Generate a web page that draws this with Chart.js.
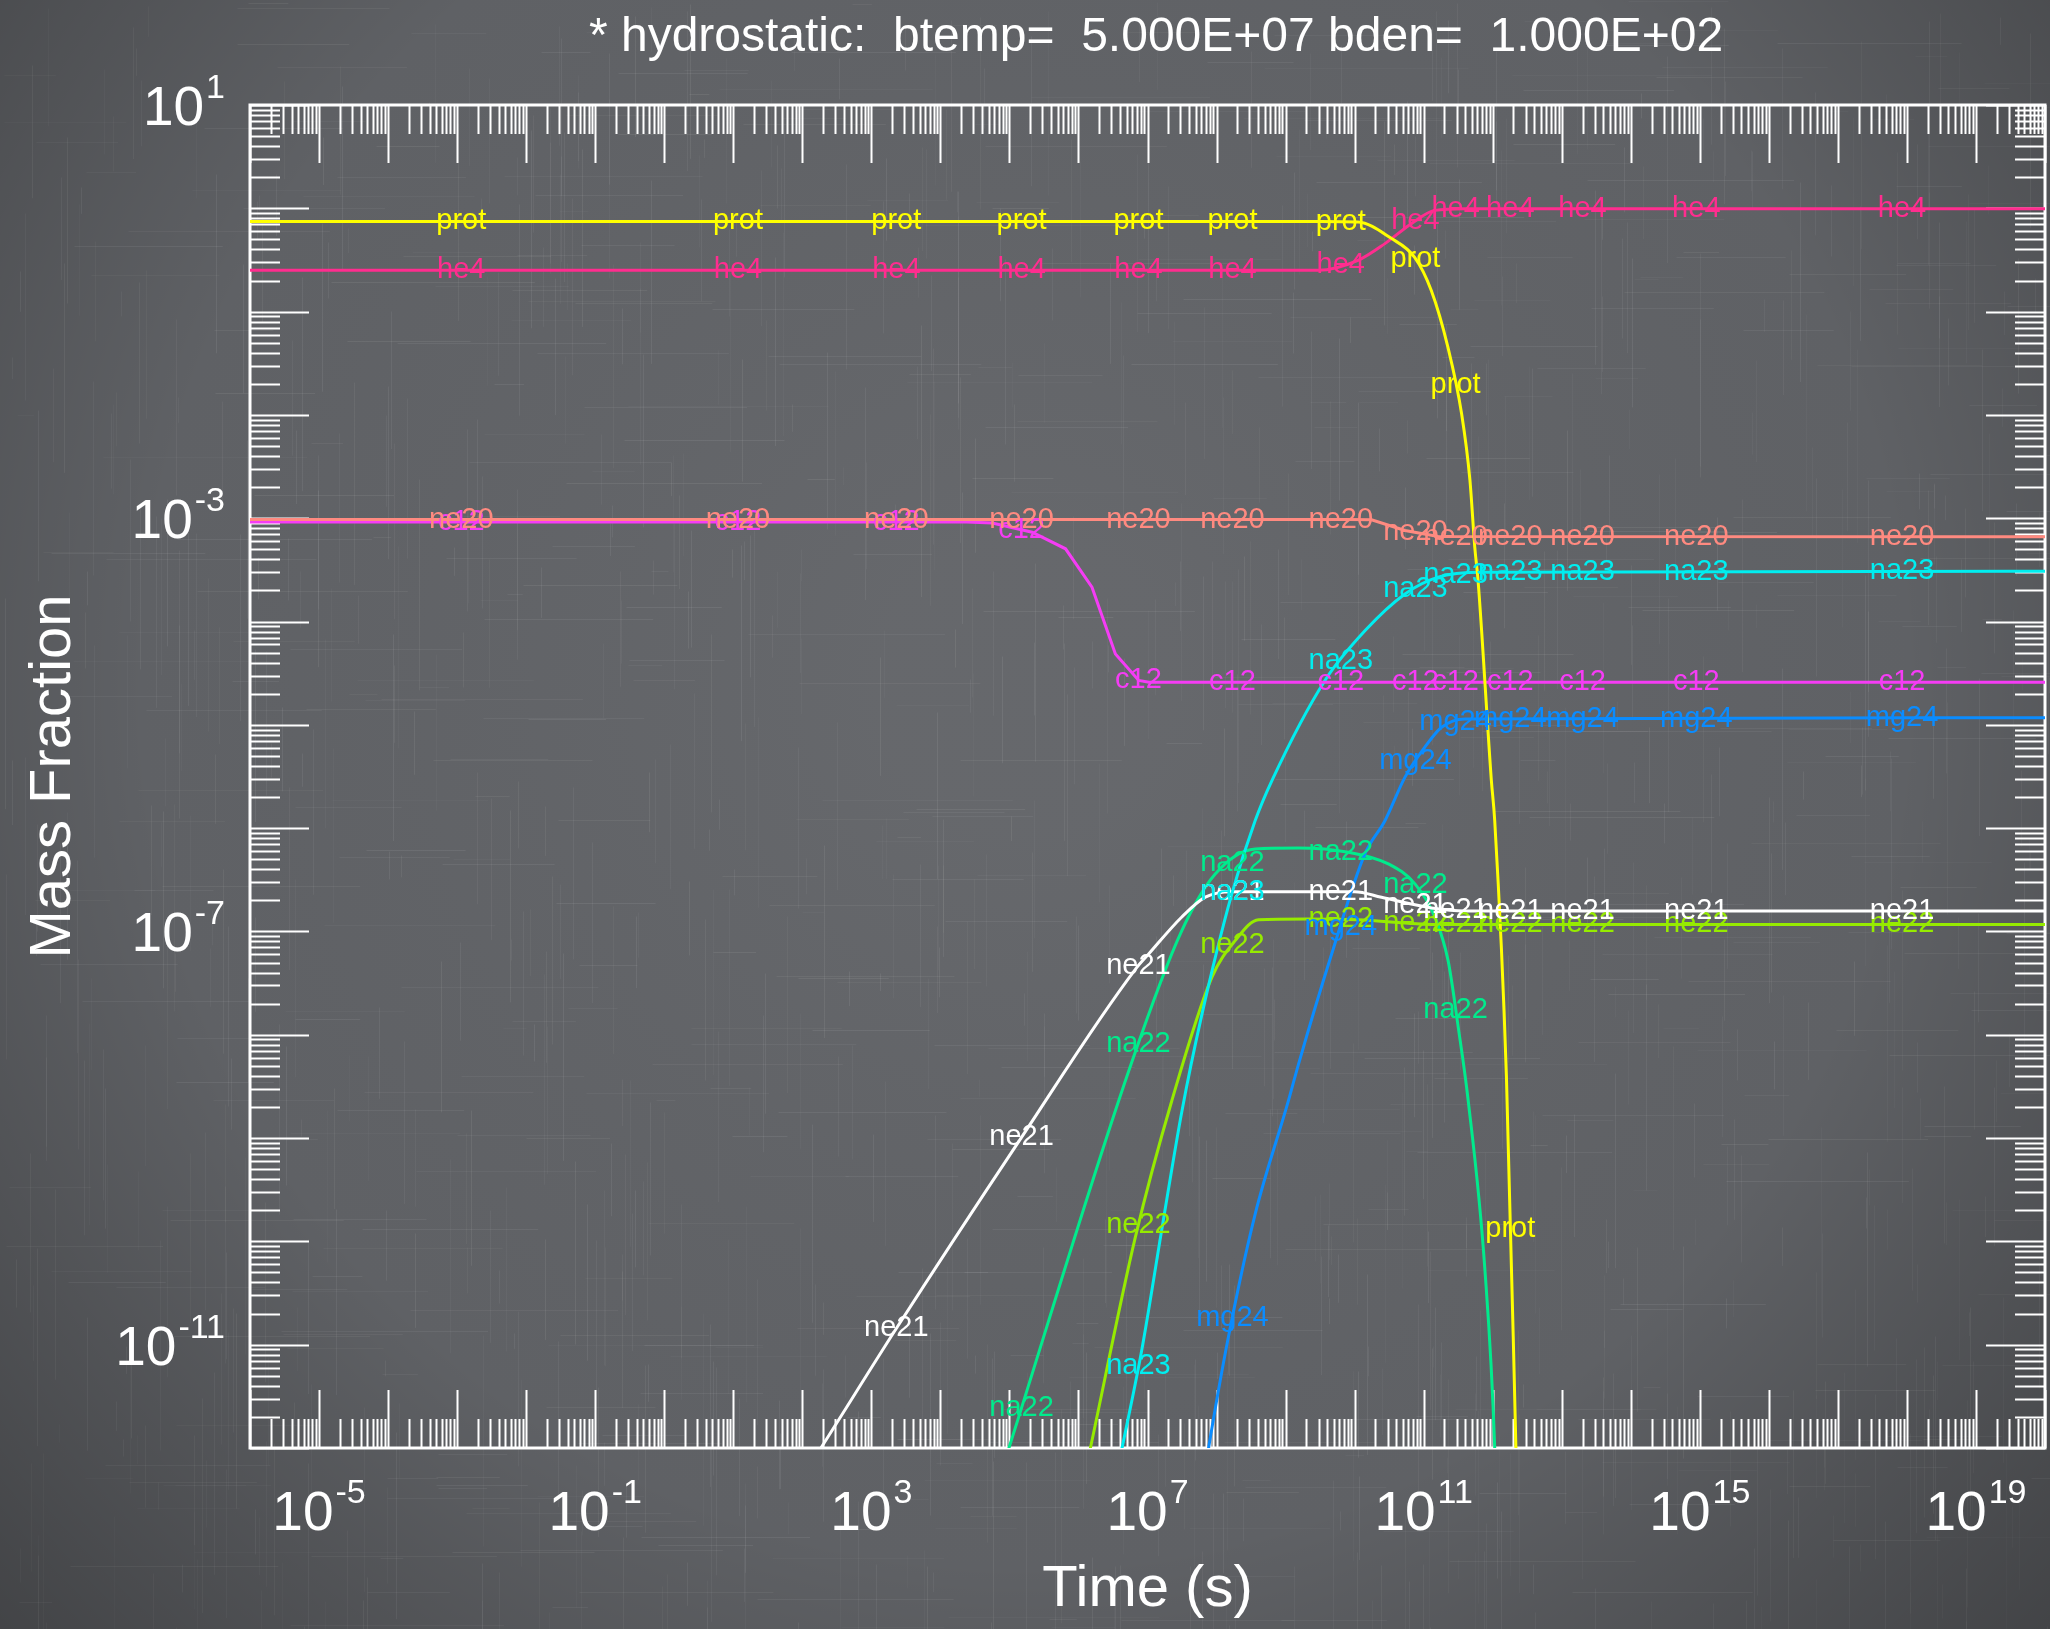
<!DOCTYPE html>
<html>
<head>
<meta charset="utf-8">
<title>hydrostatic burn</title>
<script src="https://cdn.jsdelivr.net/npm/chart.js@4.4.0/dist/chart.umd.min.js"></script>
<style>
  html, body { margin: 0; padding: 0; background: #4a4b4e; }
  #wrap { position: absolute; left: 0; top: 0; width: 2050px; height: 1629px; }
</style>
</head>
<body>
<div id="wrap"><canvas id="cha" width="2050" height="1629"></canvas></div>
<script>
// time (s) and mass fraction for each species
const protT = [1e-6, 3.2e9, 1.12e10, 3.39e10, 7.41e10, 1.29e11, 2.24e11, 3.55e11, 4.68e11, 5.5e11, 6.14e11, 9.57e11, 1.07e12, 1.58e12, 2.17e12, 2.3e12];
const protX = [0.746, 0.746, 0.736, 0.512, 0.335, 0.160, 0.0455, 0.0102, 2.34e-3, 5.25e-4, 2.49e-4, 2.89e-6, 1.18e-6, 4.0e-9, 1.0e-12, 2.0e-13];

const he4T = [1e-6, 2.95e9, 1.12e10, 2.75e10, 6.61e10, 1.45e11, 3.98e11, 1e20];
const he4X = [0.251, 0.251, 0.313, 0.455, 0.710, 0.955, 0.99, 0.99];

const ne20T = [1e-6, 8.1e9, 1.76e10, 5.37e10, 1.62e11, 1e20];
const ne20X = [9.7e-4, 9.7e-4, 9.66e-4, 7.6e-4, 6.65e-4, 6.6e-4];

const c12T = [1e-6, 2.4e4, 5.65e4, 2.13e5, 6.5e5, 1.57e6, 3.43e6, 7.46e6, 1.05e7, 1e20];
const c12X = [9.2e-4, 9.2e-4, 9.0e-4, 7.33e-4, 5.06e-4, 2.15e-4, 4.86e-5, 2.69e-5, 2.59e-5, 2.59e-5];

const na23T = [3.98e6, 4.28e6, 8.34e6, 1.64e7, 3.14e7, 6.04e7, 1.66e8, 3.62e8, 6.34e8, 3.72e9, 1.42e10, 5.37e10, 1.62e11, 6.85e11, 1e20];
const na23X = [7.9e-13, 1e-12, 9.2e-12, 1.4e-10, 1.8e-9, 1.5e-8, 2.3e-7, 1.18e-6, 2.89e-6, 2.69e-5, 8.18e-5, 1.85e-4, 2.69e-4, 3.0e-4, 3.07e-4];

const mg24T = [7.2e7, 7.67e7, 1.49e8, 3.62e8, 1.1e9, 1.53e9, 4.65e9, 1.41e10, 2.75e10, 5.37e10, 1.04e11, 1.82e11, 3.94e11, 1e20];
const mg24X = [7.6e-13, 1e-12, 1.2e-11, 1.83e-10, 2.3e-9, 5.12e-9, 6.05e-8, 5.64e-7, 1.18e-6, 3.12e-6, 6.08e-6, 9.48e-6, 1.14e-5, 1.17e-5];

const ne21T = [1.5e2, 1.86e2, 2.26e3, 1.37e5, 6.67e6, 1.04e7, 3.14e7, 6.87e7, 1.66e8, 1.01e10, 2.45e10, 1.3e11, 4.0e11, 1e20];
const ne21X = [8.0e-13, 1e-12, 1.41e-11, 9.3e-10, 4.3e-8, 6.05e-8, 1.38e-7, 2.15e-7, 2.43e-7, 2.43e-7, 2.14e-7, 1.69e-7, 1.58e-7, 1.58e-7];

const na22T = [8.7e4, 9.84e4, 5.98e6, 3.14e7, 9.57e7, 3.62e8, 1.53e9, 8.1e9, 3.08e10, 7.48e10, 1.46e11, 2.26e11, 3.16e11, 4.42e11, 7.67e11, 1.07e12, 1.12e12];
const na22X = [7.7e-13, 1e-12, 5.55e-9, 1.02e-7, 3.6e-7, 6.3e-7, 6.44e-7, 5.85e-7, 4.51e-7, 2.89e-7, 1.37e-7, 5.22e-8, 1.2e-8, 2.3e-9, 5.6e-11, 1e-12, 3e-13];

const ne22T = [1.33e6, 1.49e6, 6.67e6, 2.25e7, 8.55e7, 1.86e8, 4.05e8, 1.96e9, 1.12e10, 1.46e11, 1e20];
const ne22X = [7e-13, 1e-12, 1.1e-10, 2.3e-9, 3.6e-8, 8.15e-8, 1.3e-7, 1.32e-7, 1.3e-7, 1.17e-7, 1.17e-7];

// times at which the species names are written on the curves
const labelTimes = [1.15e-3, 11.7, 2.3e3, 1.5e5, 7.4e6, 1.7e8, 6.3e9, 7.6e10, 2.9e11, 1.8e12, 2.0e13, 8.9e14, 8.5e17];

// labelled decades
const xTickExp = [-5, -1, 3, 7, 11, 15, 19];
const yTickExp = [1, -3, -7, -11];

const titleText = '* hydrostatic:  btemp=  5.000E+07 bden=  1.000E+02';
const FONT = '"Liberation Sans", Arial, Helvetica, sans-serif';

// c12 and ne20 were plotted as plain polylines, the rest look smooth
const species = [
  { name: 'prot', t: protT, x: protX, color: '#ffff00', smooth: true },
  { name: 'he4',  t: he4T,  x: he4X,  color: '#ff2d8f', smooth: true },
  { name: 'ne20', t: ne20T, x: ne20X, color: '#ff8a80', smooth: false },
  { name: 'c12',  t: c12T,  x: c12X,  color: '#f53cf5', smooth: false },
  { name: 'na23', t: na23T, x: na23X, color: '#00eef0', smooth: true },
  { name: 'mg24', t: mg24T, x: mg24X, color: '#0a8cff', smooth: true },
  { name: 'ne21', t: ne21T, x: ne21X, color: '#ffffff', smooth: true },
  { name: 'na22', t: na22T, x: na22X, color: '#00eb8c', smooth: true },
  { name: 'ne22', t: ne22T, x: ne22X, color: '#96eb00', smooth: true },
];

function hash(n) {
  const s = Math.sin(n * 12.9898 + 78.233) * 43758.5453;
  return s - Math.floor(s);
}

function valueAt(t, ts, vs) {
  const lt = Math.log10(t);
  for (let i = 0; i < ts.length - 1; i++) {
    const a = Math.log10(ts[i]), b = Math.log10(ts[i + 1]);
    if (lt >= a && lt <= b) {
      const f = (lt - a) / (b - a);
      const va = Math.log10(vs[i]), vb = Math.log10(vs[i + 1]);
      return Math.pow(10, va + f * (vb - va));
    }
  }
  return null;
}

// linen-like background
const linen = {
  id: 'linen',
  beforeDraw(chart) {
    const ctx = chart.ctx, W = chart.width, H = chart.height;
    ctx.save();
    ctx.fillStyle = '#616367';
    ctx.fillRect(0, 0, W, H);
    ctx.lineWidth = 1;
    for (let i = 0; i < 1600; i++) {
      const px = Math.floor(hash(i * 3 + 1) * W) + 0.5;
      const py = Math.floor(hash(i * 3 + 2) * H) + 0.5;
      const len = 15 + hash(i * 3 + 3) * 200;
      ctx.strokeStyle = 'rgba(255,255,255,' + (0.025 + 0.05 * hash(i * 7 + 5)).toFixed(3) + ')';
      ctx.beginPath();
      if (i % 3) { ctx.moveTo(px, py); ctx.lineTo(px, py + len); }
      else { ctx.moveTo(px, py); ctx.lineTo(px + len, py); }
      ctx.stroke();
    }
    const g = ctx.createRadialGradient(W * 0.5, H * 0.42, 150, W * 0.5, H * 0.42, W * 0.72);
    g.addColorStop(0, 'rgba(255,255,255,0.03)');
    g.addColorStop(0.55, 'rgba(0,0,0,0.02)');
    g.addColorStop(1, 'rgba(0,0,0,0.36)');
    ctx.fillStyle = g;
    ctx.fillRect(0, 0, W, H);
    ctx.restore();
  }
};

// box with inward log ticks on all four sides
const frameTicks = {
  id: 'frameTicks',
  beforeDatasetsDraw(chart) {
    const { ctx, chartArea: a } = chart;
    const xs = chart.scales.x, ys = chart.scales.y;
    ctx.save();
    ctx.strokeStyle = '#ffffff';
    ctx.lineWidth = 2;
    ctx.beginPath();
    for (let d = -6; d <= 20; d++) {
      for (let m = 1; m <= 9; m++) {
        const v = m * Math.pow(10, d);
        if (v < xs.min * 0.999 || v > xs.max * 1.001) continue;
        const px = Math.round(xs.getPixelForValue(v)) + 0.5;
        const len = m === 1 ? 58 : 29;
        ctx.moveTo(px, a.bottom); ctx.lineTo(px, a.bottom - len);
        ctx.moveTo(px, a.top); ctx.lineTo(px, a.top + len);
      }
    }
    for (let d = -12; d <= 1; d++) {
      for (let m = 1; m <= 9; m++) {
        const v = m * Math.pow(10, d);
        if (v < ys.min * 0.999 || v > ys.max * 1.001) continue;
        const py = Math.round(ys.getPixelForValue(v)) + 0.5;
        const len = m === 1 ? 59 : 30;
        ctx.moveTo(a.left, py); ctx.lineTo(a.left + len, py);
        ctx.moveTo(a.right, py); ctx.lineTo(a.right - len, py);
      }
    }
    ctx.stroke();
    ctx.lineWidth = 3;
    ctx.strokeRect(a.left, a.top, a.right - a.left, a.bottom - a.top);
    ctx.restore();
  }
};

// species names written along the curves
const curveLabels = {
  id: 'curveLabels',
  afterDatasetsDraw(chart) {
    const ctx = chart.ctx, a = chart.chartArea;
    const xs = chart.scales.x, ys = chart.scales.y;
    ctx.save();
    ctx.beginPath();
    ctx.rect(a.left, a.top, a.right - a.left, a.bottom - a.top);
    ctx.clip();
    ctx.font = '29px ' + FONT;
    ctx.textAlign = 'center';
    ctx.textBaseline = 'middle';
    for (let s = species.length - 1; s >= 0; s--) {
      const sp = species[s];
      ctx.fillStyle = sp.color;
      labelTimes.forEach(t => {
        const v = valueAt(t, sp.t, sp.x);
        if (v === null || v < ys.min || v > ys.max) return;
        ctx.fillText(sp.name, xs.getPixelForValue(t), ys.getPixelForValue(v));
      });
    }
    ctx.restore();
  }
};

function drawPower(ctx, exp, x, baseY, align) {
  const e = String(exp);
  ctx.font = '55px ' + FONT;
  const wb = ctx.measureText('10').width;
  ctx.font = '34px ' + FONT;
  const we = ctx.measureText(e).width;
  const total = wb + we + 2;
  const left = align === 'right' ? x - total : x - total / 2;
  ctx.textAlign = 'left';
  ctx.textBaseline = 'alphabetic';
  ctx.font = '55px ' + FONT;
  ctx.fillText('10', left, baseY);
  ctx.font = '34px ' + FONT;
  ctx.fillText(e, left + wb + 2, baseY - 27);
}

// tick labels and titles
const texts = {
  id: 'texts',
  afterDraw(chart) {
    const ctx = chart.ctx, a = chart.chartArea;
    const xs = chart.scales.x, ys = chart.scales.y;
    ctx.save();
    ctx.fillStyle = '#ffffff';
    xTickExp.forEach(e => drawPower(ctx, e, xs.getPixelForValue(Math.pow(10, e)), 1530, 'center'));
    yTickExp.forEach(e => drawPower(ctx, e, 225, ys.getPixelForValue(Math.pow(10, e)) + 20, 'right'));

    ctx.textAlign = 'center';
    ctx.textBaseline = 'alphabetic';
    ctx.font = '48px ' + FONT;
    ctx.fillText(titleText, 1156, 51);

    ctx.font = '58px ' + FONT;
    ctx.fillText('Time (s)', (a.left + a.right) / 2, 1606);

    ctx.translate(70, (a.top + a.bottom) / 2);
    ctx.rotate(-Math.PI / 2);
    ctx.fillText('Mass Fraction', 0, 0);
    ctx.restore();
  }
};

const ctx4 = document.getElementById('cha');
const chart4 = new Chart(ctx4, {
    type: 'line',
    data: {
        datasets: species.map(sp => ({
            label: sp.name,
            data: sp.t.map((t, i) => ({ x: t, y: sp.x[i] })),
            borderColor: sp.color,
            borderWidth: 3,
            pointRadius: 0,
            tension: 0,
            cubicInterpolationMode: sp.smooth ? 'monotone' : 'default',
            fill: false,
        })),
    },
    options: {
        responsive: false,
        animation: false,
        layout: {
            padding: { left: 250, right: 5, top: 105, bottom: 181 }
        },
        plugins: {
            legend: { display: false },
            tooltip: { enabled: false },
            title: { display: false },
        },
        scales: {
            x: { type: 'logarithmic', min: 1e-6, max: 1e20, display: false },
            y: { type: 'logarithmic', min: 1e-12, max: 10, display: false }
        }
    },
    plugins: [linen, frameTicks, curveLabels, texts]
});
</script>
</body>
</html>
